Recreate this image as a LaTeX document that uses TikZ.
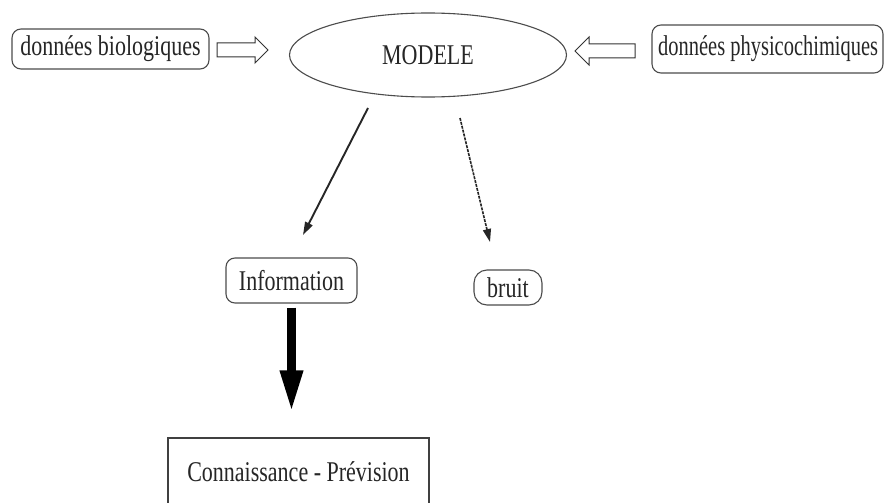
\documentclass[tikz,border=0pt]{standalone}
\usepackage{fontspec}
\setmainfont{Liberation Serif}
\usepackage{graphicx}
\usetikzlibrary{shapes.geometric,arrows.meta}
\newcommand{\tallt}[1]{\scalebox{1}[1.3]{#1}}
\begin{document}
\begin{tikzpicture}[x=1pt,y=-1pt,
  every node/.style={font=\fontsize{22}{26}\selectfont, text=black!85},
  rbox/.style={draw=black!70, line width=1.1pt, rounded corners=9pt, inner sep=0pt},
  hollow/.style={draw=black!80, line width=1pt, fill=white, line join=miter},
  conn/.style={draw=black!85, line width=1.9pt, -{Triangle[length=13pt,width=8pt]}},
  bigarrow/.style={draw=black, line width=9pt, -{Triangle[length=42pt,width=21pt]}},
  ]
\useasboundingbox (0,0) rectangle (886,503);
\clip (0,0) rectangle (886,503);
\fill[white] (0,0) rectangle (886,503);
% top row
\node[rbox, minimum width=197pt, minimum height=40pt] (bio) at (110.5,49) {\tallt{données biologiques}};
\node[draw=black!70, line width=1.1pt, ellipse, minimum width=277pt, minimum height=84pt, inner sep=0pt] (mod) at (428,55) {\tallt{MODELE}};
\node[rbox, minimum width=231pt, minimum height=48pt] (phy) at (767.5,49) {};
\node[anchor=west, inner sep=0pt] (phyt) at (658,49) {\scalebox{0.93}[1.3]{données physicochimiques}};
% hollow block arrows
\draw[hollow] (217,43) -- (255,43) -- (255,37) -- (268,50) -- (255,63) -- (255,57) -- (217,57) -- cycle;
\draw[hollow] (635,44) -- (589,44) -- (589,37) -- (575,51) -- (589,65) -- (589,58) -- (635,58) -- cycle;
% middle
\node[rbox, minimum width=131pt, minimum height=45pt] (info) at (291.5,280.5) {\tallt{Information}};
\node[rbox, rounded corners=13pt, minimum width=68pt, minimum height=35pt] (bruit) at (508,287.5) {\tallt{bruit}};
\coordinate (s1) at (368,108);
\coordinate (e1) at (303,235);
\coordinate (s2) at (460,118);
\coordinate (e2) at (490,242);
\draw[conn] (s1) -- (e1);
\draw[conn, line width=1.6pt, dash pattern=on 3pt off 1pt] (s2) -- (e2);
% bottom
\node[draw=black!75, line width=1.1pt, minimum width=261pt, minimum height=68pt, inner sep=0pt] (conn) at (298.5,472) {\tallt{Connaissance - Prévision}};
\draw[bigarrow] ([yshift=-4pt]info.south) -- ([yshift=25pt]info.south |- conn.north);
\end{tikzpicture}
\end{document}
